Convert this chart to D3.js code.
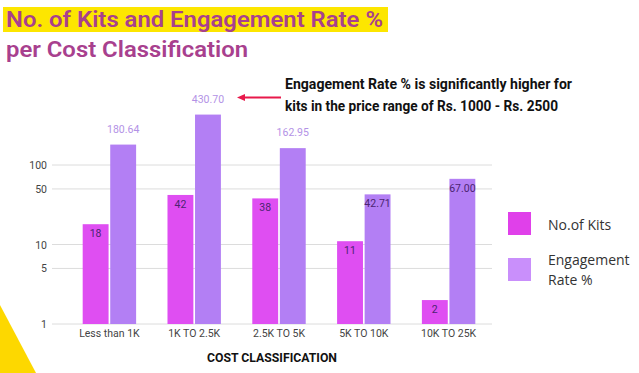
<!DOCTYPE html>
<html>
<head>
<meta charset="utf-8">
<script src="https://cdn.jsdelivr.net/npm/d3@7"></script>
<style>
  body { margin: 0; background: #fff; }
  svg { display: block; }
</style>
</head>
<body>
<div id="chart"></div>
<script>
(function() {
  var width = 639,
      height = 373;

  // data
  var categories = ["Less than 1K", "1K TO 2.5K", "2.5K TO 5K", "5K TO 10K", "10K TO 25K"];
  var kits = [18, 42, 38, 11, 2];
  var engagement = [180.64, 430.70, 162.95, 42.71, 67.00];
  var yTicks = [1, 5, 10, 50, 100];
  var seriesNames = ["No.of Kits", "Engagement Rate %"];

  var barColors = ["#df4ef2", "#b37ff4"],
      legendColors = ["#e040ea", "#c98ffb"];

  var svg = d3.select("#chart")
        .append("svg")
        .attr("width", width)
        .attr("height", height);

  // yellow corner triangle
  svg.append("polygon")
    .attr("points", "0,305 36,373 0,373")
    .attr("fill", "#fdd800");

  // title
  svg.append("rect")
    .attr("x", 3).attr("y", 7)
    .attr("width", 385).attr("height", 25)
    .attr("fill", "#fde600");

  var title = svg.append("g")
    .attr("font-family", "Roboto, sans-serif")
    .attr("font-weight", 600)
    .attr("font-size", 22)
    .attr("fill", "#a8408e");

  title.append("text")
    .attr("x", 6).attr("y", 27)
    .attr("textLength", 377).attr("lengthAdjust", "spacingAndGlyphs")
    .text("No. of Kits and Engagement Rate %");
  title.append("text")
    .attr("x", 6).attr("y", 57)
    .attr("textLength", 242).attr("lengthAdjust", "spacingAndGlyphs")
    .text("per Cost Classification");

  // scales
  var x0 = d3.scaleBand()
    .domain(categories)
    .range([67, 491])
    .paddingInner(0.37)
    .paddingOuter(0.185);

  var x1 = d3.scaleBand()
    .domain([0, 1])
    .range([0, x0.bandwidth()])
    .paddingInner(0.06);

  var y = d3.scaleLog()
    .domain([1, 1000])
    .range([324, 85.5]);

  // gridlines
  svg.append("g")
    .selectAll("line")
    .data(yTicks)
    .enter().append("line")
    .attr("x1", 52).attr("x2", 492)
    .attr("y1", function(d) { return y(d); })
    .attr("y2", function(d) { return y(d); })
    .attr("stroke", "#dcdcdc")
    .attr("stroke-width", 1);

  svg.append("g")
    .selectAll("text")
    .data(yTicks)
    .enter().append("text")
    .attr("x", 47)
    .attr("y", function(d) { return y(d) + 4; })
    .attr("text-anchor", "end")
    .attr("font-family", "Roboto, Arial, sans-serif")
    .attr("font-size", 10.5)
    .attr("fill", "#444")
    .text(function(d) { return d; });

  // bars
  var groups = svg.append("g")
    .selectAll("g")
    .data(categories)
    .enter().append("g")
    .attr("transform", function(d) { return "translate(" + x0(d) + ",0)"; });

  var bars = groups.selectAll("g")
    .data(function(d, i) { return [kits[i], engagement[i]].map(function(v, s) { return {s: s, v: v}; }); })
    .enter().append("g");

  bars.append("rect")
    .attr("x", function(d) { return x1(d.s); })
    .attr("y", function(d) { return y(d.v); })
    .attr("width", x1.bandwidth())
    .attr("height", function(d) { return y(1) - y(d.v); })
    .attr("fill", function(d) { return barColors[d.s]; });

  bars.append("text")
    .attr("x", function(d) { return x1(d.s) + x1.bandwidth() / 2; })
    .attr("y", function(d) { return d.v > 100 ? y(d.v) - 12 : y(d.v) + 13; })
    .attr("text-anchor", "middle")
    .attr("font-family", "Roboto, Arial, sans-serif")
    .attr("font-size", 10.5)
    .attr("fill", function(d) { return d.v > 100 ? "#b392e6" : "#4b2471"; })
    .text(function(d) { return d.s === 0 ? d.v : d.v.toFixed(2); });

  // category labels
  svg.append("g")
    .selectAll("text")
    .data(categories)
    .enter().append("text")
    .attr("x", function(d) { return x0(d) + x0.bandwidth() / 2; })
    .attr("y", 337)
    .attr("text-anchor", "middle")
    .attr("font-family", "Roboto, Arial, sans-serif")
    .attr("font-size", 10.5)
    .attr("fill", "#444")
    .text(function(d) { return d; });

  svg.append("text")
    .attr("x", 272).attr("y", 362)
    .attr("text-anchor", "middle")
    .attr("font-family", "Roboto, sans-serif")
    .attr("font-weight", 700)
    .attr("font-size", 13.5)
    .attr("fill", "#111")
    .attr("textLength", 130).attr("lengthAdjust", "spacingAndGlyphs")
    .text("COST CLASSIFICATION");

  // annotation + arrow
  var note = svg.append("g")
    .attr("font-family", "Roboto, sans-serif")
    .attr("font-weight", 700)
    .attr("font-size", 14)
    .attr("fill", "#111");
  note.append("text")
    .attr("x", 285).attr("y", 89)
    .attr("textLength", 287).attr("lengthAdjust", "spacingAndGlyphs")
    .text("Engagement Rate % is significantly higher for");
  note.append("text")
    .attr("x", 285).attr("y", 111)
    .attr("textLength", 273).attr("lengthAdjust", "spacingAndGlyphs")
    .text("kits in the price range of Rs. 1000 - Rs. 2500");

  svg.append("line")
    .attr("x1", 244).attr("x2", 281)
    .attr("y1", 97.5).attr("y2", 97.5)
    .attr("stroke", "#e8194b")
    .attr("stroke-width", 2);
  svg.append("polygon")
    .attr("points", "237,97.5 245,94 245,101")
    .attr("fill", "#e8194b");

  // legend
  var legend = svg.append("g")
    .selectAll("g")
    .data(seriesNames)
    .enter().append("g")
    .attr("transform", function(d, i) { return "translate(508," + (212 + i * 46) + ")"; });

  legend.append("rect")
    .attr("width", 23).attr("height", 23)
    .attr("fill", function(d, i) { return legendColors[i]; });

  legend.append("text")
    .attr("x", 40)
    .attr("font-family", "'Open Sans', sans-serif")
    .attr("font-size", 14)
    .attr("fill", "#333")
    .each(function(d, i) {
      var el = d3.select(this);
      if (i === 0) {
        el.append("tspan").attr("x", 40).attr("y", 18).text(d);
      } else {
        el.append("tspan").attr("x", 40).attr("y", 7).text("Engagement");
        el.append("tspan").attr("x", 40).attr("y", 27).text("Rate %");
      }
    });
})();
</script>
</body>
</html>
